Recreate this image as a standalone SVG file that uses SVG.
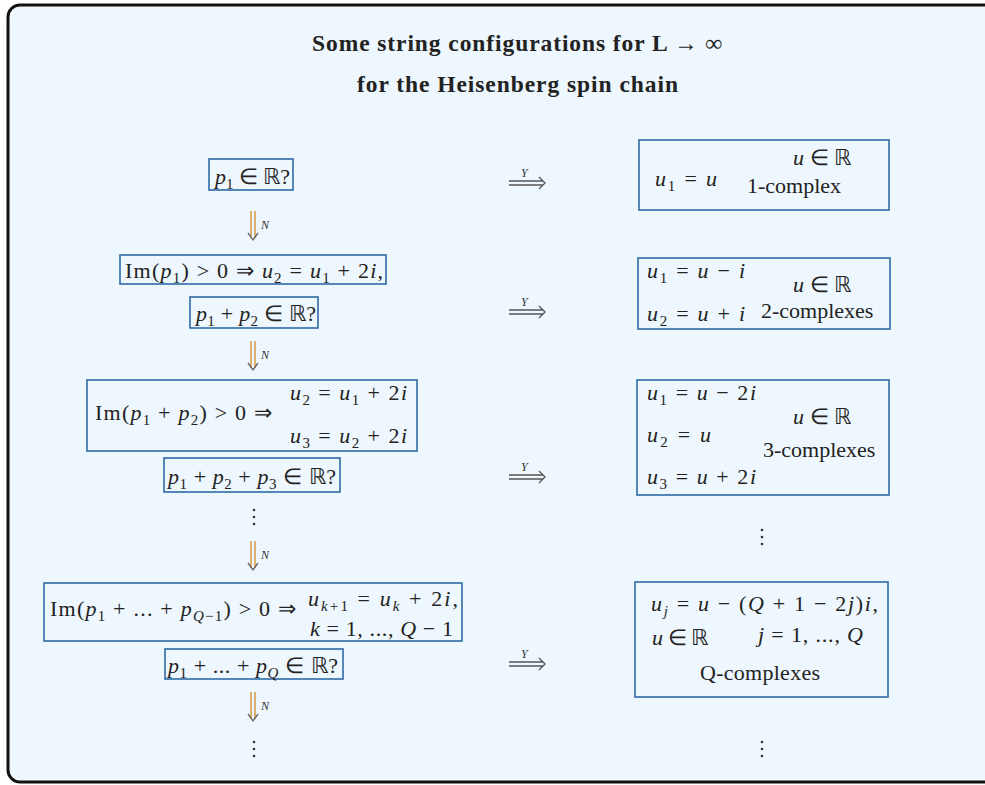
<svg xmlns="http://www.w3.org/2000/svg" width="985" height="785" viewBox="0 0 985 785">
<defs>
<style>
text{font-family:"Liberation Serif","Times New Roman",serif}
.m{font-size:22px;fill:#222}
.i{font-style:italic}
.s{font-size:15px}
.t{font-size:23.5px;font-weight:bold;fill:#222}
.box{fill:none;stroke:#2e6aa5;stroke-width:1.6}
.ya{stroke:#555;stroke-width:1.3;fill:none}
.na{stroke:#d39a45;stroke-width:1.5;fill:none}
.nh{stroke:#666;stroke-width:1.3;fill:none}
.lab{font-size:12px;font-style:italic;fill:#333}
.dot{fill:#333}
</style>
<g id="yarrow">
<path class="ya" d="M0,-2 H34 M0,2 H34 M30,-6 L36,0 L30,6"/>
<text class="lab" x="12" y="-6" font-family="Liberation Serif">Y</text>
</g>
<g id="narrow">
<path class="na" d="M-2,0 V27 M2,0 V27"/>
<path class="nh" d="M-5,22 L0,29 L5,22"/>
<text class="lab" x="8" y="18" font-family="Liberation Serif">N</text>
</g>
<g id="vdots">
<circle class="dot" cx="0" cy="0" r="1.3"/>
<circle class="dot" cx="0" cy="7" r="1.3"/>
<circle class="dot" cx="0" cy="14" r="1.3"/>
</g>
</defs>
<rect x="0" y="0" width="985" height="785" fill="#ffffff"/>
<rect x="8" y="5" width="1000" height="777" rx="12" fill="#eef7fd" stroke="#111" stroke-width="3"/>

<g font-family="Liberation Serif">
<g id="title">
<text class="t" x="312" y="51" textLength="410" lengthAdjust="spacing">Some string configurations for L → ∞</text>
<text class="t" x="357" y="92" textLength="321" lengthAdjust="spacing">for the Heisenberg spin chain</text>
</g>

<g id="connectors">
<use href="#yarrow" x="509" y="183"/>
<use href="#yarrow" x="509" y="312"/>
<use href="#yarrow" x="509" y="477"/>
<use href="#yarrow" x="509" y="664"/>
<use href="#narrow" x="253" y="211"/>
<use href="#narrow" x="253" y="341"/>
<use href="#narrow" x="253" y="541"/>
<use href="#narrow" x="253" y="692"/>
<use href="#vdots" x="254" y="510"/>
<use href="#vdots" x="254" y="742"/>
<use href="#vdots" x="762" y="530"/>
<use href="#vdots" x="762" y="742"/>
</g>

<g id="q1">
<rect class="box" x="209" y="159" width="84" height="31"/>
<text class="m" x="215" y="184" textLength="75" lengthAdjust="spacing"><tspan class="i">p</tspan><tspan class="s" dy="5">1</tspan><tspan dy="-5"> ∈ ℝ?</tspan></text>
</g>

<g id="r1">
<rect class="box" x="639" y="140" width="250" height="70"/>
<text class="m" x="655" y="186" textLength="62" lengthAdjust="spacing"><tspan class="i">u</tspan><tspan class="s" dy="5">1</tspan><tspan dy="-5"> = </tspan><tspan class="i">u</tspan></text>
<text class="m" x="793" y="165"><tspan class="i">u</tspan> ∈ ℝ</text>
<text class="m" x="747" y="193">1-complex</text>
</g>

<g id="c1">
<rect class="box" x="120" y="255" width="266" height="29"/>
<text class="m" x="125" y="278" textLength="258" lengthAdjust="spacing">Im(<tspan class="i">p</tspan><tspan class="s" dy="5">1</tspan><tspan dy="-5">) &gt; 0 ⇒ </tspan><tspan class="i">u</tspan><tspan class="s" dy="5">2</tspan><tspan dy="-5"> = </tspan><tspan class="i">u</tspan><tspan class="s" dy="5">1</tspan><tspan dy="-5"> + 2</tspan><tspan class="i">i</tspan>,</text>
</g>

<g id="q2">
<rect class="box" x="190" y="297" width="128" height="31"/>
<text class="m" x="196" y="321" textLength="120" lengthAdjust="spacing"><tspan class="i">p</tspan><tspan class="s" dy="5">1</tspan><tspan dy="-5"> + </tspan><tspan class="i">p</tspan><tspan class="s" dy="5">2</tspan><tspan dy="-5"> ∈ ℝ?</tspan></text>
</g>

<g id="r2">
<rect class="box" x="638" y="258" width="252" height="71"/>
<text class="m" x="647" y="278" textLength="98" lengthAdjust="spacing"><tspan class="i">u</tspan><tspan class="s" dy="5">1</tspan><tspan dy="-5"> = </tspan><tspan class="i">u</tspan> − <tspan class="i">i</tspan></text>
<text class="m" x="647" y="321" textLength="98" lengthAdjust="spacing"><tspan class="i">u</tspan><tspan class="s" dy="5">2</tspan><tspan dy="-5"> = </tspan><tspan class="i">u</tspan> + <tspan class="i">i</tspan></text>
<text class="m" x="793" y="292"><tspan class="i">u</tspan> ∈ ℝ</text>
<text class="m" x="761" y="318">2-complexes</text>
</g>

<g id="c2">
<rect class="box" x="87" y="380" width="330" height="71"/>
<text class="m" x="95" y="420" textLength="177" lengthAdjust="spacing">Im(<tspan class="i">p</tspan><tspan class="s" dy="5">1</tspan><tspan dy="-5"> + </tspan><tspan class="i">p</tspan><tspan class="s" dy="5">2</tspan><tspan dy="-5">) &gt; 0 ⇒</tspan></text>
<text class="m" x="290" y="400" textLength="117" lengthAdjust="spacing"><tspan class="i">u</tspan><tspan class="s" dy="5">2</tspan><tspan dy="-5"> = </tspan><tspan class="i">u</tspan><tspan class="s" dy="5">1</tspan><tspan dy="-5"> + 2</tspan><tspan class="i">i</tspan></text>
<text class="m" x="290" y="443" textLength="117" lengthAdjust="spacing"><tspan class="i">u</tspan><tspan class="s" dy="5">3</tspan><tspan dy="-5"> = </tspan><tspan class="i">u</tspan><tspan class="s" dy="5">2</tspan><tspan dy="-5"> + 2</tspan><tspan class="i">i</tspan></text>
</g>

<g id="q3">
<rect class="box" x="164" y="458" width="176" height="34"/>
<text class="m" x="168" y="484" textLength="168" lengthAdjust="spacing"><tspan class="i">p</tspan><tspan class="s" dy="5">1</tspan><tspan dy="-5"> + </tspan><tspan class="i">p</tspan><tspan class="s" dy="5">2</tspan><tspan dy="-5"> + </tspan><tspan class="i">p</tspan><tspan class="s" dy="5">3</tspan><tspan dy="-5"> ∈ ℝ?</tspan></text>
</g>

<g id="r3">
<rect class="box" x="637" y="380" width="252" height="115"/>
<text class="m" x="647" y="400" textLength="109" lengthAdjust="spacing"><tspan class="i">u</tspan><tspan class="s" dy="5">1</tspan><tspan dy="-5"> = </tspan><tspan class="i">u</tspan> − 2<tspan class="i">i</tspan></text>
<text class="m" x="647" y="442" textLength="64" lengthAdjust="spacing"><tspan class="i">u</tspan><tspan class="s" dy="5">2</tspan><tspan dy="-5"> = </tspan><tspan class="i">u</tspan></text>
<text class="m" x="647" y="484" textLength="109" lengthAdjust="spacing"><tspan class="i">u</tspan><tspan class="s" dy="5">3</tspan><tspan dy="-5"> = </tspan><tspan class="i">u</tspan> + 2<tspan class="i">i</tspan></text>
<text class="m" x="793" y="424"><tspan class="i">u</tspan> ∈ ℝ</text>
<text class="m" x="763" y="457">3-complexes</text>
</g>

<g id="cQ">
<rect class="box" x="44" y="583" width="418" height="58"/>
<text class="m" x="50" y="616" textLength="246" lengthAdjust="spacing">Im(<tspan class="i">p</tspan><tspan class="s" dy="5">1</tspan><tspan dy="-5"> + ... + </tspan><tspan class="i">p</tspan><tspan class="s i" dy="5">Q</tspan><tspan class="s">−1</tspan><tspan dy="-5">) &gt; 0 ⇒</tspan></text>
<text class="m" x="308" y="606" textLength="150" lengthAdjust="spacing"><tspan class="i">u</tspan><tspan class="s i" dy="5">k</tspan><tspan class="s">+1</tspan><tspan dy="-5"> = </tspan><tspan class="i">u</tspan><tspan class="s i" dy="5">k</tspan><tspan dy="-5"> + 2</tspan><tspan class="i">i</tspan>,</text>
<text class="m" x="310" y="636" textLength="143" lengthAdjust="spacing"><tspan class="i">k</tspan> = 1, ..., <tspan class="i">Q</tspan> − 1</text>
</g>

<g id="qQ">
<rect class="box" x="165" y="649" width="178" height="30"/>
<text class="m" x="168" y="673" textLength="170" lengthAdjust="spacing"><tspan class="i">p</tspan><tspan class="s" dy="5">1</tspan><tspan dy="-5"> + ... + </tspan><tspan class="i">p</tspan><tspan class="s i" dy="5">Q</tspan><tspan dy="-5"> ∈ ℝ?</tspan></text>
</g>

<g id="rQ">
<rect class="box" x="635" y="582" width="253" height="115"/>
<text class="m" x="651" y="611" textLength="227" lengthAdjust="spacing"><tspan class="i">u</tspan><tspan class="s i" dy="5">j</tspan><tspan dy="-5"> = </tspan><tspan class="i">u</tspan> − (<tspan class="i">Q</tspan> + 1 − 2<tspan class="i">j</tspan>)<tspan class="i">i</tspan>,</text>
<text class="m" x="652" y="645" textLength="56" lengthAdjust="spacing"><tspan class="i">u</tspan> ∈ ℝ</text>
<text class="m" x="758" y="642" textLength="105" lengthAdjust="spacing"><tspan class="i">j</tspan> = 1, ..., <tspan class="i">Q</tspan></text>
<text class="m" x="700" y="680" textLength="120" lengthAdjust="spacing">Q-complexes</text>
</g>
</g>
</svg>
